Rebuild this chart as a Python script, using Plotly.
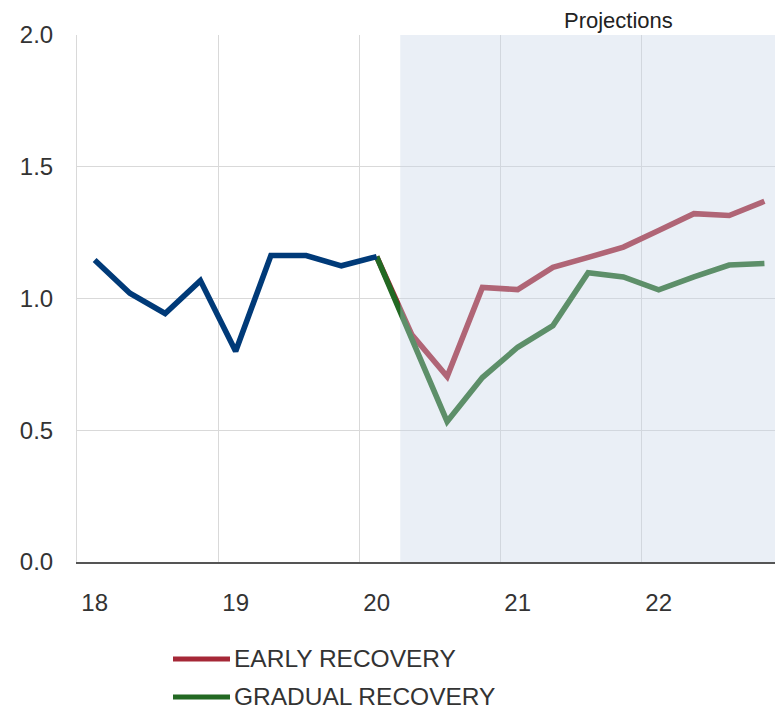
import plotly.graph_objects as go

# Quarterly index: 0 = 2018Q1 ... 19 = 2022Q4
hist_quarters = list(range(0, 9))
proj_quarters = list(range(8, 20))

observed = [1.146, 1.02, 0.943, 1.068, 0.80, 1.163, 1.163, 1.124, 1.159]
early_recovery = [1.159, 0.862, 0.704, 1.042, 1.034, 1.118, 1.156, 1.195, 1.258, 1.322, 1.315, 1.369]
gradual_recovery = [1.159, 0.852, 0.533, 0.70, 0.815, 0.897, 1.098, 1.082, 1.033, 1.082, 1.127, 1.133]

year_ticks = [0, 4, 8, 12, 16]
year_labels = ["18", "19", "20", "21", "22"]
year_bounds = [3.5, 7.5, 11.5, 15.5]
y_ticks = [0.0, 0.5, 1.0, 1.5, 2.0]

projection_start = 8.67

BLUE = "#003a78"
RED = "#a52837"
GREEN = "#236923"
TEXT = "#333333"
GRID = "#d9d9d9"
FONT = "Liberation Sans, Arial, sans-serif"
LINE_W = 5.6

fig = go.Figure()
fig.add_trace(go.Scatter(x=proj_quarters, y=early_recovery, mode="lines",
                         name="EARLY RECOVERY", line=dict(color=RED, width=LINE_W)))
fig.add_trace(go.Scatter(x=proj_quarters, y=gradual_recovery, mode="lines",
                         name="GRADUAL RECOVERY", line=dict(color=GREEN, width=LINE_W)))
fig.add_trace(go.Scatter(x=hist_quarters, y=observed, mode="lines",
                         name="Observed", line=dict(color=BLUE, width=LINE_W)))

# Projection period: translucent band laid over the lines
fig.add_shape(type="rect", xref="x", yref="y", x0=projection_start, x1=19.3,
              y0=0, y1=2.0, layer="above", line=dict(width=0),
              fillcolor="rgba(196,210,229,0.36)")

fig.add_annotation(text="Projections", xref="x", yref="paper", x=14.87, y=1.0,
                   xanchor="center", yanchor="bottom", showarrow=False,
                   font=dict(family=FONT, size=22, color="#222222"))

# Legend drawn as line samples with labels beneath the chart
legend_items = [("EARLY RECOVERY", RED, -0.184), ("GRADUAL RECOVERY", GREEN, -0.256)]
for label, color, ypos in legend_items:
    fig.add_shape(type="line", xref="paper", yref="paper",
                  x0=(173 - 77) / 698, x1=(230 - 77) / 698, y0=ypos, y1=ypos,
                  line=dict(color=color, width=5))
    fig.add_annotation(text=label, xref="paper", yref="paper",
                       x=(232 - 77) / 698, y=ypos, xanchor="left", yanchor="middle",
                       showarrow=False,
                       font=dict(family=FONT, size=24.5, color=TEXT))

fig.update_layout(
    width=775, height=709,
    margin=dict(l=77, r=0, t=35, b=147),
    paper_bgcolor="white", plot_bgcolor="white",
    showlegend=False,
    font=dict(family=FONT, color=TEXT),
)
fig.update_xaxes(
    range=[-0.5, 19.3], tickmode="array", tickvals=year_ticks, ticktext=year_labels,
    showgrid=False, zeroline=False,
    showline=True, linecolor="#555555", linewidth=2,
    ticks="", ticklabelstandoff=18,
    tickfont=dict(family=FONT, size=24, color=TEXT),
    minor=dict(tickmode="array", tickvals=year_bounds, showgrid=True,
               gridcolor=GRID, gridwidth=1, ticks=""),
)
fig.update_yaxes(
    range=[0, 2.0], tickmode="array", tickvals=y_ticks,
    ticktext=[f"{v:.1f}" for v in y_ticks],
    showgrid=True, gridcolor=GRID, gridwidth=1, zeroline=False,
    showline=True, linecolor=GRID, linewidth=1,
    ticks="", ticklabelstandoff=18,
    tickfont=dict(family=FONT, size=24, color=TEXT),
)

fig.write_html("out.html")
